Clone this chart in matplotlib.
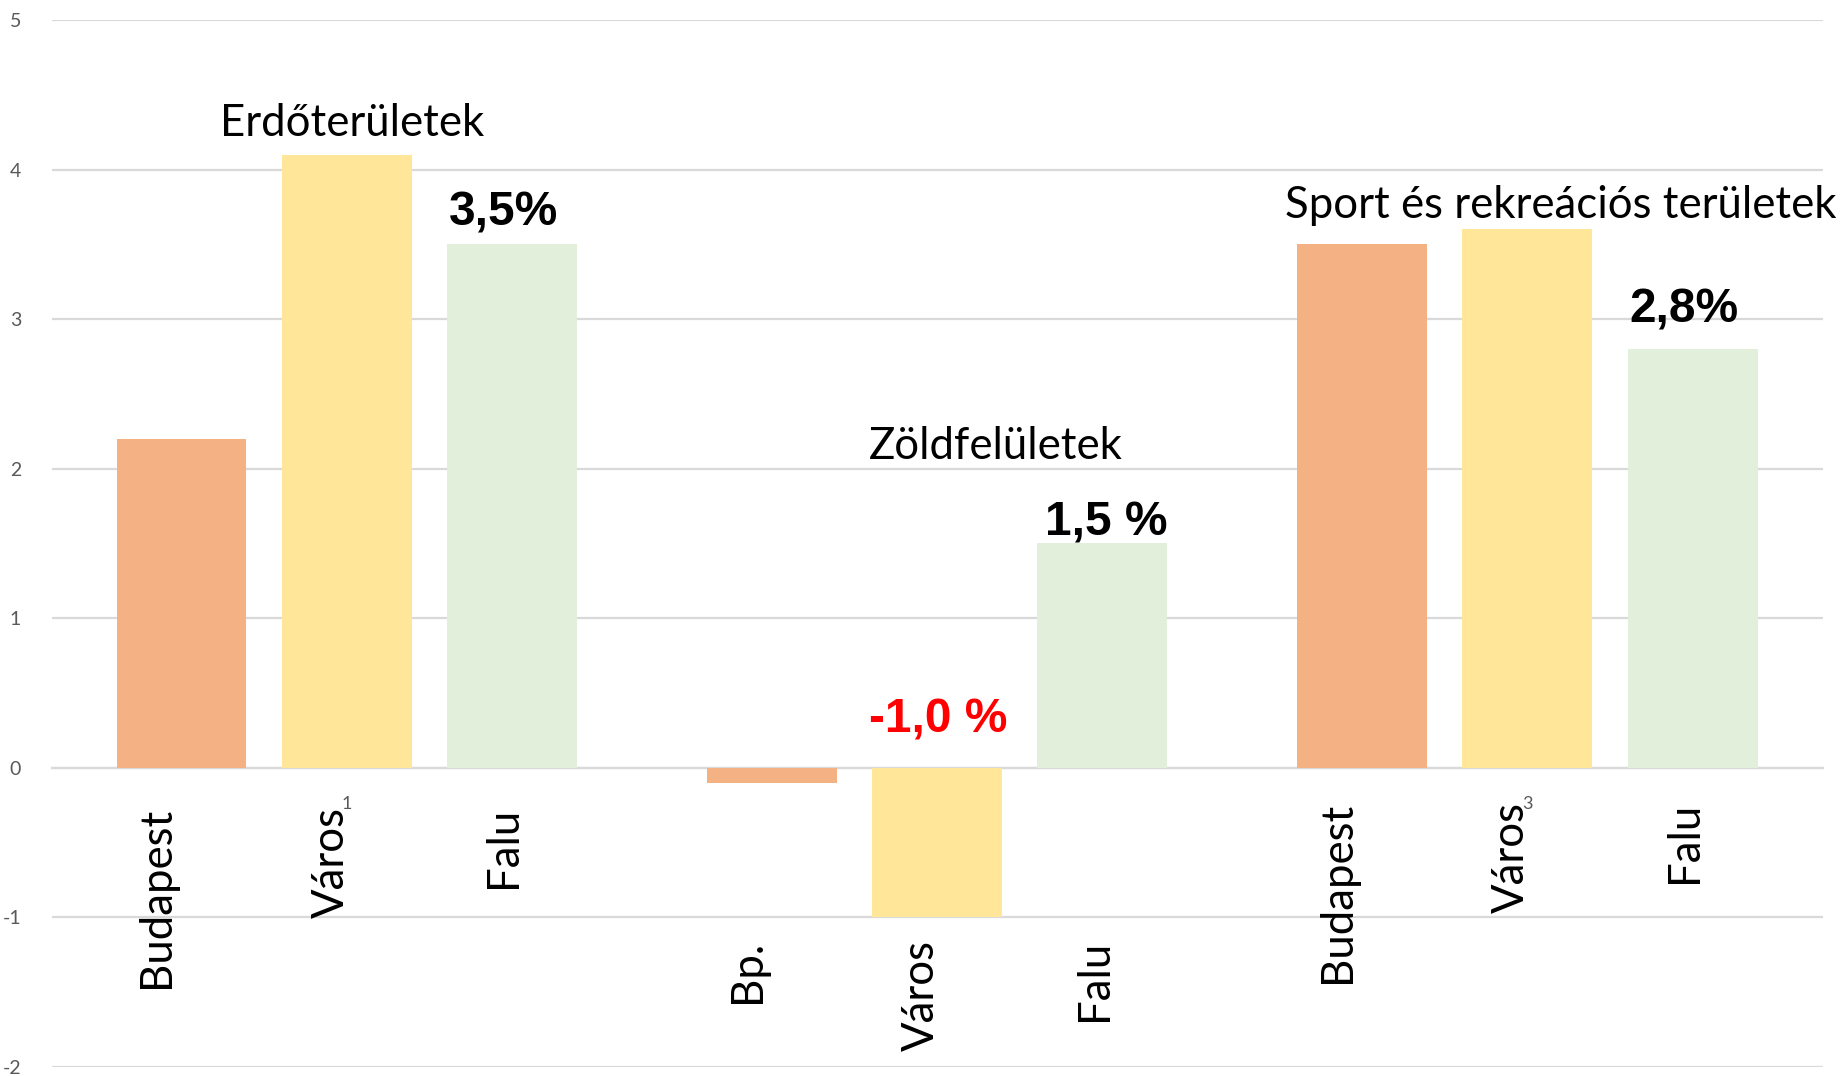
import numpy as np
import matplotlib
matplotlib.use("Agg")
import matplotlib.pyplot as plt

# data
groups = ['1', '2', '3']
sub_labels = [
    ['Budapest', 'Város', 'Falu'],
    ['Bp.', 'Város', 'Falu'],
    ['Budapest', 'Város', 'Falu'],
]
budapest = [2.2, -0.1, 3.5]
varos = [4.1, -1.0, 3.6]
falu = [3.5, 1.5, 2.8]
group_titles = ['Erdőterületek', 'Zöldfelületek', 'Sport és rekreációs területek']

# highlighted values: (group index, series index, text, colour)
highlights = [
    (0, 2, '3,5%', 'black'),
    (1, 1, '-1,0 %', '#FF0000'),
    (1, 2, '1,5 %', 'black'),
    (2, 2, '2,8%', 'black'),
]

COLORS = ['#F4B183', '#FFE699', '#E2EFDA']
GRID = '#D9D9D9'
TICK_GREY = '#595959'
MAIN_FONT = ['Lato', 'DejaVu Sans']


def plot():
    plt.rcParams['axes.unicode_minus'] = False
    fig = plt.figure(figsize=(18.46, 10.76), dpi=100)
    ax = fig.add_axes([0.028, 0.0084, 0.9593, 0.973])

    x = np.arange(len(groups))
    width = 0.22
    offsets = [-0.28, 0.0, 0.28]
    series = [budapest, varos, falu]

    for s, (vals, off) in enumerate(zip(series, offsets)):
        ax.bar(x + off, vals, width=width, color=COLORS[s], zorder=2)

    ax.set_xlim(-0.5, len(groups) - 0.5)
    ax.set_ylim(-2, 5)
    ax.set_yticks(range(-2, 6))
    ax.set_axisbelow(True)
    ax.yaxis.grid(True, color=GRID, linewidth=1.6)

    for side in ['top', 'right', 'left']:
        ax.spines[side].set_visible(False)
    ax.spines['bottom'].set_position(('data', 0))
    ax.spines['bottom'].set_color(GRID)
    ax.spines['bottom'].set_linewidth(1.6)
    ax.spines['bottom'].set_zorder(1)

    ax.set_xticks(x)
    ax.set_xticklabels(groups)
    ax.tick_params(axis='x', length=0, pad=20, labelsize=13, labelcolor=TICK_GREY)
    ax.tick_params(axis='y', length=0, pad=22, labelsize=14, labelcolor=TICK_GREY)
    for lab in ax.get_xticklabels() + ax.get_yticklabels():
        lab.set_family(MAIN_FONT)

    # rotated sub-category labels under each group
    label_top = [-0.26, -1.15, -0.23]
    label_shift = [-0.042, -0.027, -0.014]
    for g in range(len(groups)):
        for s, off in enumerate(offsets):
            ax.text(x[g] + off + label_shift[s], label_top[g], sub_labels[g][s],
                    rotation=90, ha='center', va='top', fontsize=31.5,
                    family=MAIN_FONT, color='black')

    # group titles
    title_pos = [(0.009, 4.31), (1.099, 2.15), (2.057, 3.76)]
    for t, (tx, ty) in zip(group_titles, title_pos):
        ax.text(tx, ty, t, ha='center', va='center', fontsize=31.5,
                family=MAIN_FONT, color='black')

    # bold value callouts
    callout_y = {(0, 2): 3.71, (1, 1): 0.32, (1, 2): 1.64, (2, 2): 3.06}
    callout_dx = {(0, 2): -0.014, (1, 1): 0.001, (1, 2): 0.007, (2, 2): -0.014}
    for g, s, txt, col in highlights:
        ax.text(x[g] + offsets[s] + callout_dx[(g, s)], callout_y[(g, s)], txt,
                ha='center', va='center', fontsize=34.5, fontweight='bold',
                family=['Liberation Sans', 'DejaVu Sans'], color=col)

    fig.savefig('out.png', dpi=100)


if __name__ == '__main__':
    plot()
